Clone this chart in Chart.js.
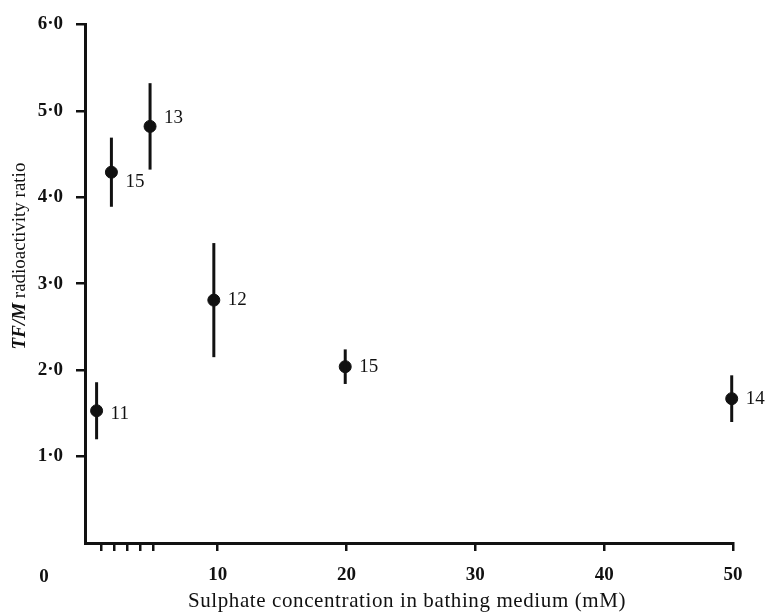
<!DOCTYPE html>
<html>
<head>
<meta charset="utf-8">
<script src="https://cdn.jsdelivr.net/npm/chart.js@4"></script>
<style>
  body { margin: 0; background: #fff; }
  #wrap { width: 768px; height: 613px; }
</style>
</head>
<body>
<div id="wrap"><canvas id="sulphate"></canvas></div>
<script>
// sulphate concentration (mM), mean TF/M ratio, +/- error, number of animals
var concentration = [0.6, 1.75, 4.75, 9.7, 19.9, 49.9];
var ratio = [1.53, 4.29, 4.82, 2.81, 2.04, 1.67];
var errorBar = [0.33, 0.40, 0.50, 0.66, 0.20, 0.27];
var nCount = ['11', '15', '13', '12', '15', '14'];
var xTicks = [1, 2, 3, 4, 5, 10, 20, 30, 40, 50];
var yTicks = [1, 2, 3, 4, 5, 6];

// small vertical nudges for the n labels so they sit beside the bars
var labelDy = [3, 10, -8, 0, 0, 0];

var ink = '#111';
var serif = '"Liberation Serif", "DejaVu Serif", serif';

var errorBars = {
    id: 'errorBars',
    afterDatasetsDraw: function(chart) {
        var ctx = chart.ctx;
        var xs = chart.scales.x, ys = chart.scales.y;
        ctx.save();
        ctx.strokeStyle = ink;
        ctx.lineWidth = 3;
        ctx.fillStyle = ink;
        ctx.font = '19px ' + serif;
        ctx.textBaseline = 'middle';
        for (var i = 0; i < concentration.length; i++) {
            var px = xs.getPixelForValue(concentration[i]);
            ctx.beginPath();
            ctx.moveTo(px, ys.getPixelForValue(ratio[i] + errorBar[i]));
            ctx.lineTo(px, ys.getPixelForValue(ratio[i] - errorBar[i]));
            ctx.stroke();
            ctx.fillText(nCount[i], px + 14, ys.getPixelForValue(ratio[i]) + labelDy[i]);
        }
        ctx.restore();
    }
};

var axisText = {
    id: 'axisText',
    afterDraw: function(chart) {
        var ctx = chart.ctx;
        ctx.save();
        ctx.fillStyle = ink;

        // shared origin label
        ctx.font = 'bold 19px ' + serif;
        ctx.textAlign = 'center';
        ctx.textBaseline = 'middle';
        ctx.fillText('0', 44, 577);

        // x axis title
        ctx.font = '21px ' + serif;
        ctx.letterSpacing = '0.6px';
        ctx.fillText('Sulphate concentration in bathing medium (mM)', 407, 601);
        ctx.letterSpacing = '0px';

        // y axis title: italic TF/M then the rest
        ctx.translate(20, 256);
        ctx.rotate(-Math.PI / 2);
        var part1 = 'TF/M';
        var part2 = ' radioactivity ratio';
        ctx.font = 'bold italic 19px ' + serif;
        var w1 = ctx.measureText(part1).width;
        ctx.font = '19px ' + serif;
        var w2 = ctx.measureText(part2).width;
        var start = -(w1 + w2) / 2;
        ctx.textAlign = 'left';
        ctx.font = 'bold italic 19px ' + serif;
        ctx.fillText(part1, start, 0);
        ctx.font = '19px ' + serif;
        ctx.fillText(part2, start + w1, 0);
        ctx.restore();
    }
};

new Chart(document.getElementById('sulphate'), {
    type: 'scatter',
    data: {
        datasets: [{
            data: concentration.map(function(c, i) { return { x: c, y: ratio[i] }; }),
            backgroundColor: ink,
            borderColor: ink,
            pointRadius: 6,
            pointHoverRadius: 6,
            clip: false
        }]
    },
    options: {
        responsive: true,
        maintainAspectRatio: false,
        animation: false,
        layout: { padding: { top: 23, right: 35, left: 0, bottom: 0 } },
        plugins: { legend: { display: false }, tooltip: { enabled: false } },
        scales: {
            x: {
                type: 'linear',
                min: -0.3,
                max: 50,
                afterFit: function(scale) { scale.height = 70; },
                afterBuildTicks: function(scale) {
                    scale.ticks = xTicks.map(function(v) { return { value: v }; });
                },
                border: { display: true, color: ink, width: 3 },
                grid: { display: true, drawOnChartArea: false, drawTicks: true, tickLength: 8, color: ink, lineWidth: 2.5 },
                ticks: {
                    color: ink,
                    padding: 13,
                    maxRotation: 0,
                    autoSkip: false,
                    font: { family: serif, size: 19, weight: 'bold' },
                    callback: function(v) { return v % 10 === 0 ? String(v) : ''; }
                }
            },
            y: {
                type: 'linear',
                min: 0,
                max: 6,
                afterFit: function(scale) { scale.width = 85; },
                afterBuildTicks: function(scale) {
                    scale.ticks = yTicks.map(function(v) { return { value: v }; });
                },
                border: { display: true, color: ink, width: 3 },
                grid: { display: true, drawOnChartArea: false, drawTicks: true, tickLength: 9, color: ink, lineWidth: 2.5 },
                ticks: {
                    color: ink,
                    padding: 13,
                    autoSkip: false,
                    font: { family: serif, size: 19, weight: 'bold' },
                    callback: function(v) { return v + '\u00b70'; }
                }
            }
        }
    },
    plugins: [errorBars, axisText]
});
</script>
</body>
</html>
